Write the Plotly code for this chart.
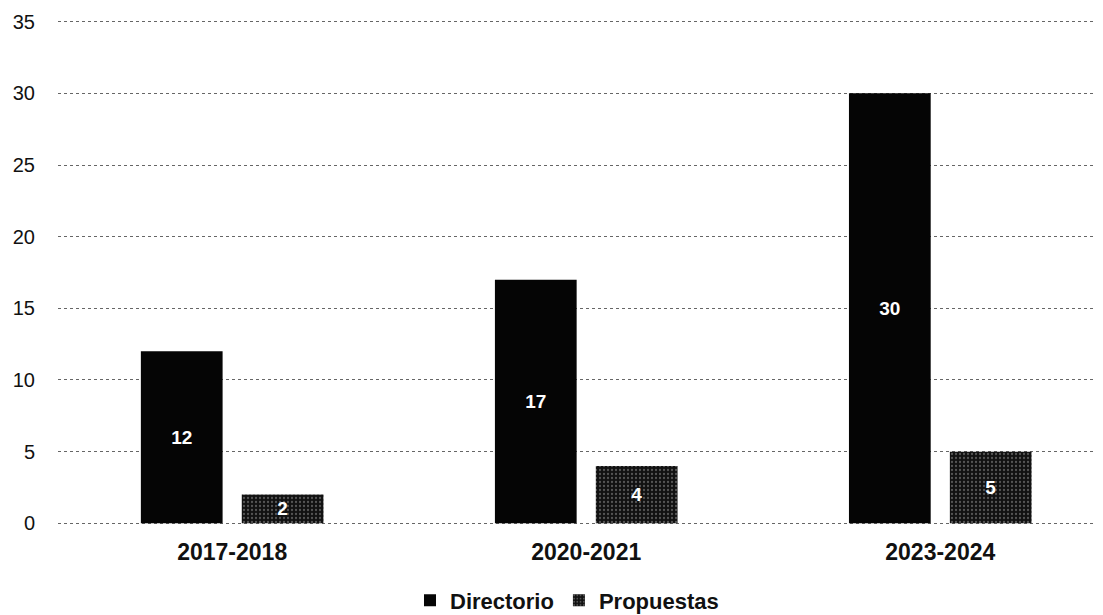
import plotly.graph_objects as go

categories = ["2017-2018", "2020-2021", "2023-2024"]
directorio = [12, 17, 30]
propuestas = [2, 4, 5]
y_ticks = [0, 5, 10, 15, 20, 25, 30, 35]

fig = go.Figure()
fig.add_trace(go.Bar(
    name="Directorio", x=categories, y=directorio,
    marker=dict(color="#050505", line=dict(width=0)),
    text=directorio, textposition="inside", insidetextanchor="middle",
    textfont=dict(color="white", size=19, family="Liberation Sans", weight="bold"),
    textangle=0,
))
fig.add_trace(go.Bar(
    name="Propuestas", x=categories, y=propuestas,
    marker=dict(color="#111111", line=dict(width=0),
                pattern=dict(shape=".", bgcolor="#111111", fgcolor="#9a9a9a",
                             size=4, solidity=0.25)),
    text=propuestas, textposition="inside", insidetextanchor="middle",
    textfont=dict(color="white", size=19, family="Liberation Sans", weight="bold"),
    textangle=0,
))

fig.update_layout(
    width=1095, height=607,
    margin=dict(l=50, r=8, t=12, b=90, autoexpand=False),
    paper_bgcolor="white", plot_bgcolor="white",
    barmode="group", bargap=0.43, bargroupgap=0.19,
    font=dict(family="Liberation Sans", color="#111111"),
    showlegend=True,
    legend=dict(orientation="h", xref="container", yref="container",
                x=0.5105, xanchor="center", y=0.024, yanchor="middle",
                font=dict(size=22, family="Liberation Sans", weight="bold"),
                itemwidth=30, traceorder="normal", tracegroupgap=0),
    uniformtext=dict(minsize=10, mode="show"),
)
fig.update_xaxes(
    type="category", range=[-0.492, 2.437], automargin=False,
    tickfont=dict(size=23, family="Liberation Sans", weight="bold", color="#111111"),
    showline=False, showgrid=False, ticks="", ticklabelstandoff=11,
)
fig.update_yaxes(
    range=[-0.12, 35.12], tickvals=y_ticks, automargin=False,
    tickfont=dict(size=20, family="Liberation Sans", color="#111111"),
    showgrid=True, gridcolor="#666666", griddash="dot", gridwidth=1,
    zeroline=False, showline=False, ticks="", ticklabelstandoff=22,
)

fig.write_html("out.html")
